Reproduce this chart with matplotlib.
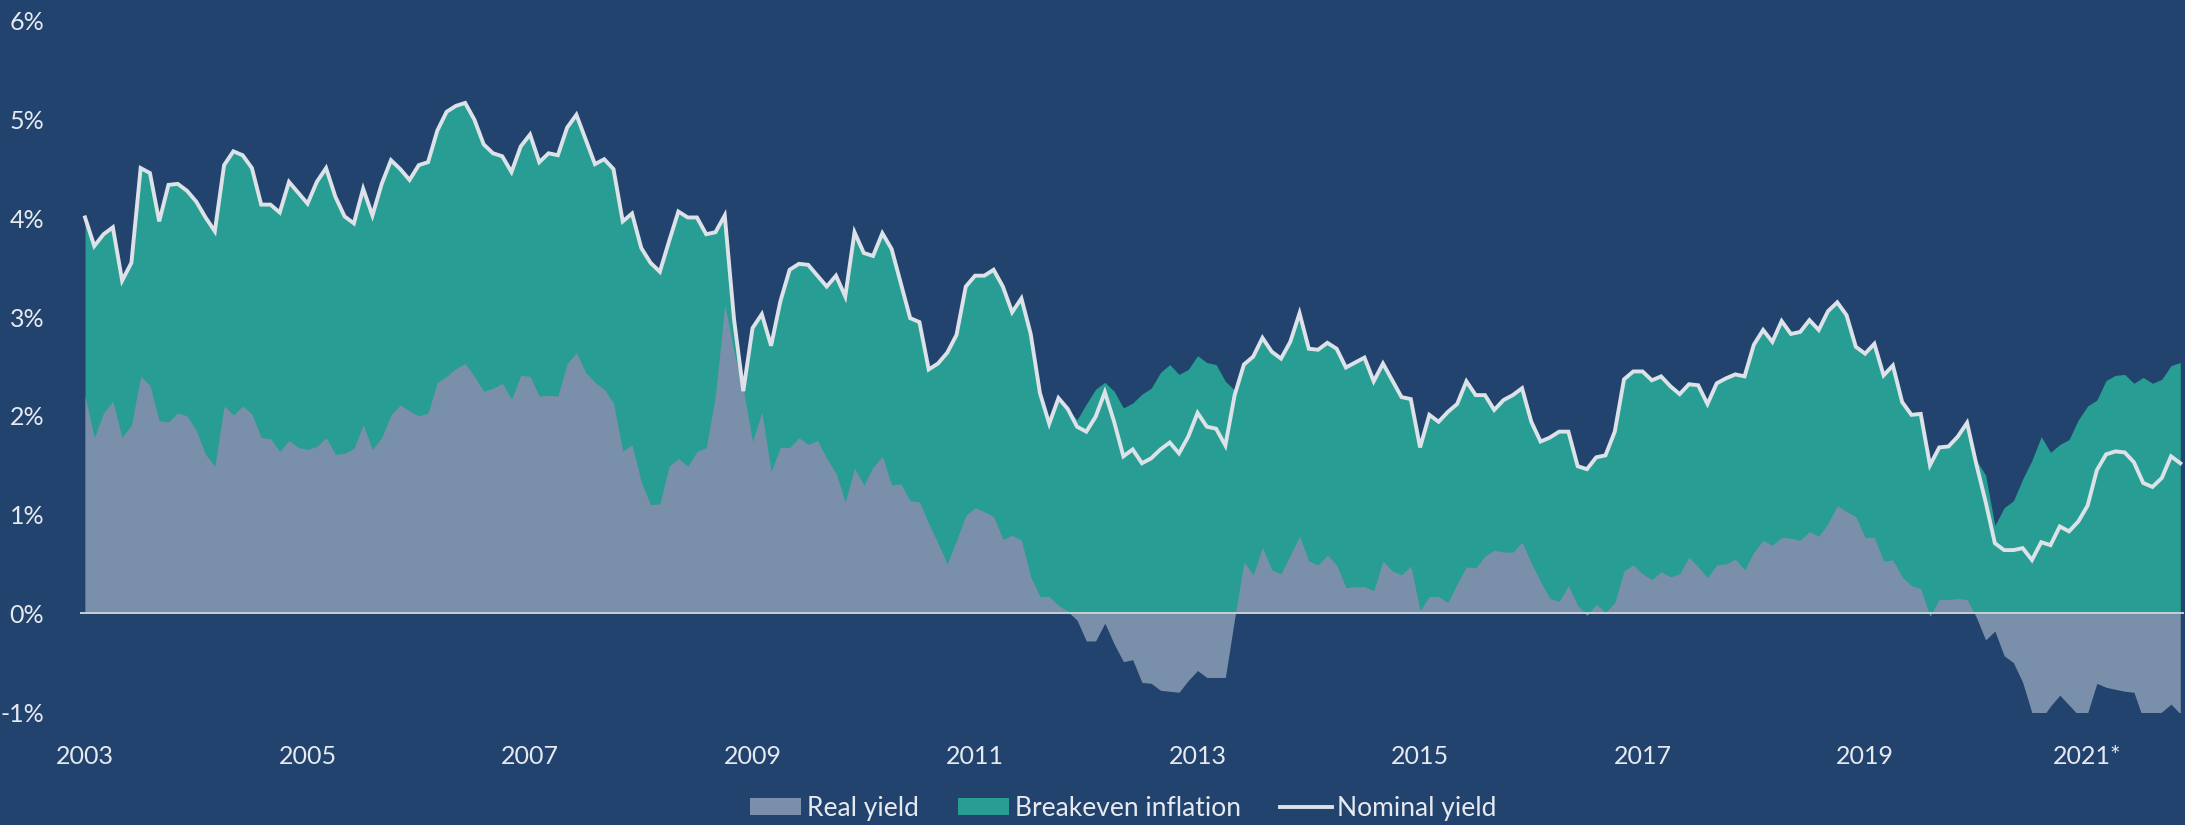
import numpy as np
import matplotlib
matplotlib.use("Agg")
from matplotlib import pyplot as plt
from matplotlib.patches import Patch
from matplotlib.lines import Line2D

# monthly values, Jan 2003 .. Nov 2021 (percent)
nominal_yield = [
    4.01, 3.72, 3.84, 3.91, 3.37, 3.55, 4.51, 4.46, 3.97, 4.34, 4.35, 4.28,  # 2003
    4.17, 4.01, 3.87, 4.54, 4.68, 4.64, 4.51, 4.14, 4.14, 4.06, 4.37, 4.26,  # 2004
    4.15, 4.37, 4.51, 4.22, 4.02, 3.95, 4.30, 4.03, 4.35, 4.59, 4.50, 4.39,  # 2005
    4.54, 4.57, 4.89, 5.08, 5.14, 5.17, 5.00, 4.75, 4.66, 4.63, 4.47, 4.73,  # 2006
    4.85, 4.57, 4.66, 4.64, 4.92, 5.05, 4.80, 4.55, 4.60, 4.50, 3.97, 4.05,  # 2007
    3.70, 3.55, 3.46, 3.77, 4.07, 4.01, 4.01, 3.84, 3.86, 4.03, 2.98, 2.25,  # 2008
    2.89, 3.03, 2.71, 3.16, 3.48, 3.54, 3.53, 3.42, 3.31, 3.42, 3.21, 3.86,  # 2009
    3.65, 3.62, 3.85, 3.69, 3.34, 2.99, 2.95, 2.47, 2.53, 2.64, 2.82, 3.31,  # 2010
    3.42, 3.42, 3.48, 3.31, 3.05, 3.19, 2.83, 2.23, 1.92, 2.18, 2.07, 1.89,  # 2011
    1.84, 1.99, 2.24, 1.94, 1.59, 1.66, 1.52, 1.57, 1.66, 1.73, 1.62, 1.79,  # 2012
    2.03, 1.89, 1.87, 1.70, 2.21, 2.52, 2.60, 2.79, 2.65, 2.58, 2.75, 3.04,  # 2013
    2.68, 2.67, 2.74, 2.68, 2.49, 2.54, 2.59, 2.35, 2.53, 2.36, 2.19, 2.17,  # 2014
    1.68, 2.01, 1.94, 2.04, 2.12, 2.35, 2.21, 2.21, 2.06, 2.16, 2.21, 2.28,  # 2015
    1.94, 1.74, 1.78, 1.84, 1.84, 1.49, 1.46, 1.58, 1.60, 1.84, 2.37, 2.45,  # 2016
    2.45, 2.36, 2.40, 2.30, 2.22, 2.32, 2.31, 2.12, 2.33, 2.38, 2.42, 2.40,  # 2017
    2.72, 2.87, 2.75, 2.96, 2.83, 2.85, 2.97, 2.87, 3.06, 3.15, 3.02, 2.70,  # 2018
    2.63, 2.73, 2.41, 2.51, 2.14, 2.01, 2.02, 1.50, 1.68, 1.69, 1.79, 1.93,  # 2019
    1.51, 1.13, 0.71, 0.64, 0.64, 0.66, 0.54, 0.72, 0.69, 0.88, 0.83, 0.93,  # 2020
    1.09, 1.45, 1.61, 1.64, 1.63, 1.53, 1.32, 1.28, 1.37, 1.59, 1.52,        # 2021
]

real_yield = [
    2.20, 1.78, 2.03, 2.15, 1.78, 1.91, 2.40, 2.31, 1.95, 1.94, 2.03, 2.00,
    1.85, 1.61, 1.49, 2.10, 2.01, 2.10, 2.02, 1.78, 1.77, 1.64, 1.75, 1.68,
    1.66, 1.69, 1.78, 1.61, 1.62, 1.67, 1.91, 1.66, 1.78, 2.01, 2.11, 2.05,
    2.00, 2.03, 2.34, 2.40, 2.48, 2.53, 2.40, 2.25, 2.28, 2.33, 2.17, 2.41,
    2.40, 2.20, 2.21, 2.20, 2.53, 2.64, 2.44, 2.34, 2.27, 2.13, 1.64, 1.71,
    1.33, 1.10, 1.11, 1.49, 1.57, 1.49, 1.64, 1.68, 2.21, 3.13, 2.65, 2.27,
    1.74, 2.04, 1.44, 1.68, 1.68, 1.78, 1.71, 1.75, 1.57, 1.42, 1.13, 1.47,
    1.30, 1.48, 1.59, 1.30, 1.31, 1.14, 1.13, 0.91, 0.71, 0.50, 0.74, 0.99,
    1.07, 1.03, 0.98, 0.75, 0.79, 0.74, 0.37, 0.17, 0.17, 0.08, 0.02, -0.07,
    -0.28, -0.28, -0.10, -0.31, -0.49, -0.47, -0.70, -0.71, -0.78, -0.79, -0.80, -0.68,
    -0.58, -0.65, -0.65, -0.65, -0.05, 0.52, 0.39, 0.67, 0.44, 0.40, 0.59, 0.78,
    0.53, 0.49, 0.59, 0.49, 0.26, 0.27, 0.27, 0.23, 0.53, 0.43, 0.39, 0.48,
    0.03, 0.17, 0.17, 0.11, 0.30, 0.47, 0.46, 0.58, 0.64, 0.62, 0.62, 0.72,
    0.51, 0.32, 0.15, 0.12, 0.28, 0.08, -0.02, 0.09, 0.01, 0.11, 0.43, 0.49,
    0.40, 0.34, 0.42, 0.37, 0.40, 0.57, 0.47, 0.36, 0.49, 0.50, 0.55, 0.44,
    0.62, 0.74, 0.69, 0.77, 0.76, 0.74, 0.83, 0.78, 0.91, 1.09, 1.03, 0.98,
    0.77, 0.77, 0.53, 0.54, 0.37, 0.28, 0.25, -0.03, 0.14, 0.14, 0.15, 0.14,
    -0.04, -0.27, -0.18, -0.43, -0.50, -0.70, -1.01, -1.07, -0.94, -0.83, -0.93, -1.03,
    -1.01, -0.71, -0.75, -0.77, -0.79, -0.80, -1.07, -1.05, -1.00, -0.92, -1.02,
]

year_labels = ['2003', '2005', '2007', '2009', '2011', '2013', '2015', '2017', '2019', '2021*']
y_ticks = [-1, 0, 1, 2, 3, 4, 5, 6]

BG = '#21436e'
TEAL = '#279d93'
GREY = '#7a8faa'
LINE = '#dde2e9'
TXT = '#e6eaf0'

plt.rcParams['font.family'] = ['Lato', 'DejaVu Sans']

nominal = np.array(nominal_yield)
real = np.array(real_yield)
breakeven = nominal - real
x = np.arange(len(nominal))

fig = plt.figure(figsize=(21.85, 8.25), dpi=100, facecolor=BG)
ax = fig.add_axes([80.4 / 2185, 1 - 712 / 825, (2184 - 80.4) / 2185, (712 - 21) / 825])
ax.set_facecolor(BG)

# breakeven sits on top of the positive part of the real yield
ax.fill_between(x, 0, np.maximum(real, 0) + breakeven, color=TEAL, lw=0, zorder=1)
ax.fill_between(x, 0, real, color=GREY, lw=0, zorder=2)
ax.axhline(0, color='#c9ced6', lw=1.4, zorder=3)
ax.plot(x, nominal, color=LINE, lw=2.8, zorder=4, solid_joinstyle='miter')

ax.set_xlim(-0.5, 226.4)
ax.set_ylim(-1, 6)
ax.set_xticks(np.arange(0, len(nominal), 24))
ax.set_xticklabels(year_labels)
ax.set_yticks(y_ticks)
ax.set_yticklabels([f'{t}%' for t in y_ticks])
ax.tick_params(length=0, colors=TXT, labelsize=18)
ax.tick_params(axis='y', pad=26)
ax.tick_params(axis='x', pad=24)
for s in ax.spines.values():
    s.set_visible(False)

handles = [Patch(facecolor=GREY, edgecolor='none'),
           Patch(facecolor=TEAL, edgecolor='none'),
           Line2D([], [], color=LINE, lw=2.8)]
leg = fig.legend(handles, ['Real yield', 'Breakeven inflation', 'Nominal yield'],
                 loc='center', bbox_to_anchor=(0.514, 0.02), ncol=3, frameon=False,
                 fontsize=19, handlelength=1.95, handleheight=0.6,
                 handletextpad=0.2, columnspacing=1.5)
for t in leg.get_texts():
    t.set_color(TXT)

fig.savefig('out.png', dpi=100, facecolor=BG)
